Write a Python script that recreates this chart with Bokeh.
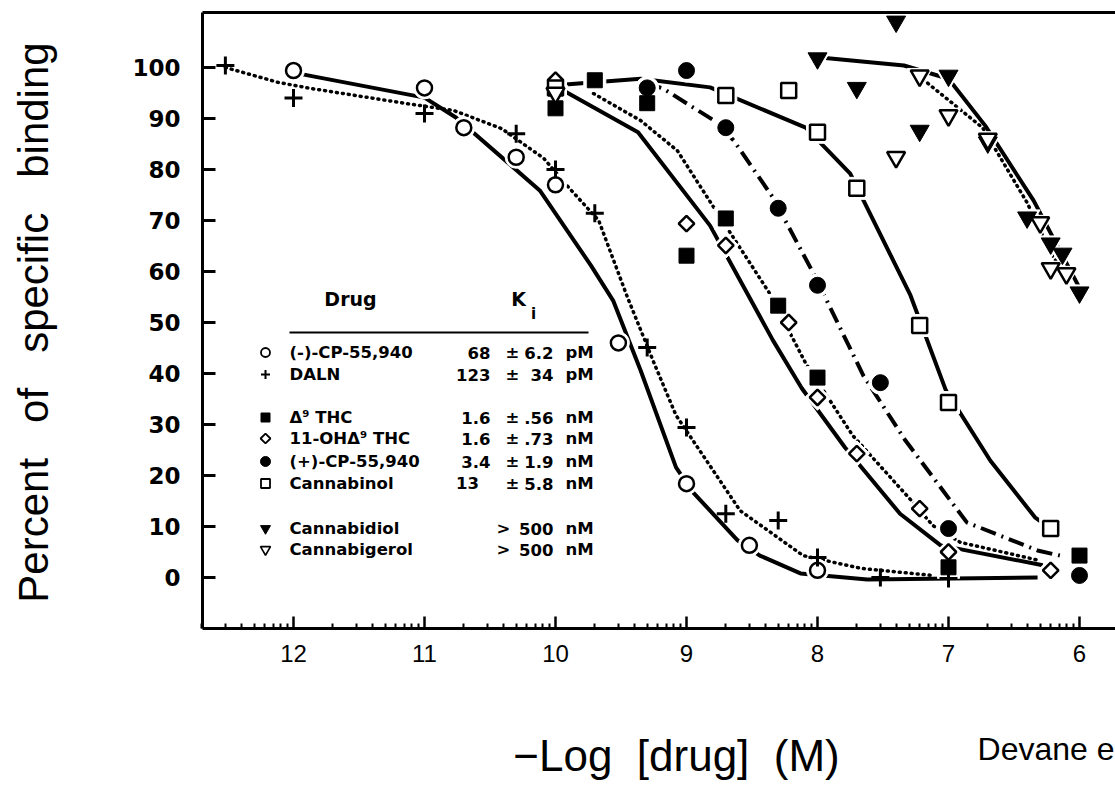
import math
from bokeh.plotting import figure
from bokeh.models import Range1d, FixedTicker, Label, LinearAxis
from bokeh.embed import file_html
from bokeh.resources import INLINE
from bokeh.core.properties import value

# ---------------- data (x = -log10[drug], y = % specific binding) ----------------
cpneg_x = [12.0, 11.0, 10.70, 10.30, 10.0, 9.52, 9.0, 8.52, 8.0]
cpneg_y = [99.4, 96.0, 88.2, 82.4, 77.0, 46.0, 18.4, 6.3, 1.4]
cpneg_cx = [12.0, 11.0, 10.76, 10.12, 9.73, 9.56, 9.35, 9.08, 8.95, 8.61, 8.44, 8.13, 7.62, 6.32]
cpneg_cy = [99.0, 94.1, 90.2, 75.9, 61.2, 54.3, 40.6, 21.6, 16.7, 7.3, 4.3, 0.8, -0.4, 0.0]

daln_x = [12.52, 12.0, 11.0, 10.30, 10.0, 9.70, 9.30, 9.0, 8.70, 8.30, 8.0, 7.52, 7.0]
daln_y = [100.4, 94.0, 91.0, 87.0, 80.0, 71.4, 45.1, 29.4, 12.5, 11.2, 3.9, 0.0, -0.2]
daln_cx = [12.52, 12.12, 11.87, 11.13, 10.78, 10.41, 10.09, 9.90, 9.67, 9.45, 9.25, 9.08, 8.59, 8.11, 7.67, 7.12]
daln_cy = [100.0, 97.1, 95.9, 92.9, 91.6, 88.0, 82.2, 76.5, 70.0, 54.9, 42.2, 31.8, 13.1, 4.3, 1.8, 0.4]

thc_x = [10.0, 9.70, 9.30, 9.0, 8.70, 8.30, 8.0, 7.0, 6.0]
thc_y = [92.0, 97.5, 93.0, 63.1, 70.4, 53.3, 39.2, 2.0, 4.3]
thc_cx = [10.0, 9.94, 9.37, 8.82, 8.34, 8.12, 7.79, 7.37, 7.06, 6.28]
thc_cy = [96.0, 95.5, 87.3, 69.0, 46.5, 37.1, 25.5, 12.5, 6.3, 2.4]

oh_x = [10.0, 9.0, 8.70, 8.22, 8.0, 7.70, 7.22, 7.0, 6.22]
oh_y = [97.5, 69.4, 65.1, 50.0, 35.3, 24.3, 13.5, 5.0, 1.4]
oh_cx = [9.71, 9.35, 9.07, 8.79, 8.37, 8.09, 7.73, 7.27, 7.12, 6.91, 6.30]
oh_cy = [94.9, 89.6, 83.7, 72.5, 55.9, 42.0, 27.8, 14.7, 10.2, 6.9, 3.3]

cppos_x = [9.30, 9.0, 8.70, 8.30, 8.0, 7.52, 7.0, 6.0]
cppos_y = [96.0, 99.4, 88.2, 72.4, 57.3, 38.2, 9.6, 0.4]
cppos_cx = [9.31, 9.18, 8.79, 8.64, 8.34, 8.03, 7.65, 7.33, 6.86, 6.32, 6.15]
cppos_cy = [96.9, 95.9, 89.6, 85.7, 74.5, 59.6, 39.6, 26.9, 10.8, 5.3, 4.3]

cbn_x = [10.0, 8.70, 8.22, 8.0, 7.70, 7.22, 7.0, 6.22]
cbn_y = [96.0, 94.5, 95.5, 87.3, 76.3, 49.4, 34.3, 9.6]
cbn_cx = [10.0, 9.35, 8.82, 8.09, 7.75, 7.29, 7.02, 6.68, 6.34, 6.22]
cbn_cy = [96.5, 97.8, 96.1, 88.2, 79.2, 55.3, 36.7, 22.9, 11.8, 9.6]

cbd_x = [8.0, 7.70, 7.40, 7.22, 7.0, 6.70, 6.40, 6.22, 6.13, 6.0]
cbd_y = [101.8, 96.0, 109.0, 87.6, 98.4, 85.3, 70.6, 65.5, 63.5, 55.9]
cbd_cx = [8.0, 7.34, 7.0, 6.72, 6.35, 6.15, 5.99]
cbd_cy = [102.0, 100.4, 97.8, 88.6, 73.9, 64.1, 56.3]

cbg_x = [10.0, 7.40, 7.22, 7.0, 6.70, 6.30, 6.22, 6.10]
cbg_y = [95.0, 82.4, 98.4, 90.6, 86.0, 69.6, 60.6, 59.6]
cbg_cx = [7.23, 6.74, 6.40, 6.21, 6.09]
cbg_cy = [98.4, 88.2, 73.5, 63.1, 59.2]

y_ticks = [0, 10, 20, 30, 40, 50, 60, 70, 80, 90, 100]
x_ticks = [12, 11, 10, 9, 8, 7, 6]
x_tick_labels = ["12", "11", "10", "9", "8", "7", "6"]

legend_names = ["(-)-CP-55,940", "DALN", "\u0394\u2079 THC", "11-OH\u0394\u2079 THC",
                "(+)-CP-55,940", "Cannabinol", "Cannabidiol", "Cannabigerol"]
legend_ki = ["68", "123", "1.6", "1.6", "3.4", "13\u2007", "", ""]
legend_pm = ["\u00b1", "\u00b1", "\u00b1", "\u00b1", "\u00b1", "\u00b1", ">", ">"]
legend_err = ["6.2", "34", ".56", ".73", "1.9", "5.8", "500", "500"]
legend_unit = ["pM", "pM", "nM", "nM", "nM", "nM", "nM", "nM"]

# ---------------- geometry helpers (canvas pixel -> data) ----------------
def dx(px):
    return 12 - (px - 293) / 131.0

def dy(py):
    return (577 - py) / 5.1

W, H = 1115, 786
FL, FR, FT, FB = 202, 1115, 12, 628   # plot box edges (canvas px)

p = figure(width=W, height=H, output_backend="svg", toolbar_location=None,
           x_range=Range1d(dx(0), dx(W)), y_range=Range1d(dy(H), dy(0)),
           x_axis_location=None, y_axis_location=None, min_border=0)
p.outline_line_color = None
p.grid.visible = False
p.background_fill_color = "white"
p.border_fill_color = "white"

# ---------------- axes (fixed to the plot box) ----------------
yaxis = LinearAxis(fixed_location=dx(FL), bounds=(dy(FB), dy(FT)),
                   ticker=FixedTicker(ticks=y_ticks),
                   major_tick_in=13, major_tick_out=0, minor_tick_in=0, minor_tick_out=0,
                   axis_line_width=3, major_tick_line_width=3, major_label_standoff=22,
                   major_label_text_font="DejaVu Sans", major_label_text_font_style="bold",
                   major_label_text_font_size="23px", major_label_text_color="black")
p.add_layout(yaxis, "left")

minor = []
for n in range(13, 5, -1):
    for k in range(2, 10):
        minor.append(n - math.log10(k))
xaxis = LinearAxis(fixed_location=dy(FB), bounds=(dx(FL), dx(FR)),
                   ticker=FixedTicker(ticks=x_ticks, minor_ticks=minor),
                   major_label_overrides={t: s for t, s in zip(x_ticks, x_tick_labels)},
                   major_tick_in=12, major_tick_out=0, minor_tick_in=5, minor_tick_out=0,
                   axis_line_width=3, major_tick_line_width=2.5, minor_tick_line_width=2,
                   major_label_standoff=16, major_label_text_font="Liberation Sans",
                   major_label_text_font_size="24px", major_label_text_color="black")
p.add_layout(xaxis, "below")

topaxis = LinearAxis(fixed_location=dy(FT), bounds=(dx(FL), dx(FR)),
                     ticker=FixedTicker(ticks=[]), major_tick_in=0, major_tick_out=0,
                     minor_tick_in=0, minor_tick_out=0, axis_line_width=3,
                     major_label_text_font_size="0px")
p.add_layout(topaxis, "above")

# ---------------- curves ----------------
LW = 4
p.line(cpneg_cx, cpneg_cy, line_width=LW, line_color="black")
p.line(daln_cx, daln_cy, line_width=3.5, line_color="black", line_dash="1 5", line_cap="round")
p.line(thc_cx, thc_cy, line_width=LW, line_color="black")
p.line(oh_cx, oh_cy, line_width=3.5, line_color="black", line_dash="1 5", line_cap="round")
p.line(cppos_cx, cppos_cy, line_width=LW, line_color="black", line_dash="16 6 2 6")
p.line(cbn_cx, cbn_cy, line_width=LW, line_color="black")
p.line(cbd_cx, cbd_cy, line_width=LW, line_color="black")
p.line(cbg_cx, cbg_cy, line_width=3.5, line_color="black", line_dash="1 5", line_cap="round")

series = [
    (cpneg_x, cpneg_y, dict(marker="circle", size=15, fill_color="white", line_width=2.5)),
    (daln_x, daln_y, dict(marker="cross", size=18, line_width=3)),
    (thc_x, thc_y, dict(marker="square", size=15, fill_color="black")),
    (oh_x, oh_y, dict(marker="square", size=11, angle=math.pi / 4, fill_color="white", line_width=2.5)),
    (cppos_x, cppos_y, dict(marker="circle", size=16, fill_color="black")),
    (cbn_x, cbn_y, dict(marker="square", size=15, fill_color="white", line_width=2.5)),
    (cbd_x, cbd_y, dict(marker="inverted_triangle", size=19, fill_color="black")),
    (cbg_x, cbg_y, dict(marker="inverted_triangle", size=18, fill_color="white", line_width=2.5)),
]
# white halos (line gaps around symbols)
for xs, ys, st in series:
    if st["marker"] == "cross":
        continue
    h = dict(st)
    h["size"] = st["size"] + 7
    h["fill_color"] = "white"
    h["line_color"] = "white"
    h["line_width"] = 1
    p.scatter(xs, ys, **h)
for xs, ys, st in series:
    p.scatter(xs, ys, line_color="black", **st)

# ---------------- legend table ----------------
row_py = [352, 374, 417, 438, 461, 483, 528, 549]
rows_y = [dy(v) for v in row_py]
leg_styles = [
    dict(marker="circle", size=9, fill_color="white", line_width=1.8),
    dict(marker="cross", size=9, line_width=2),
    dict(marker="square", size=9, fill_color="black"),
    dict(marker="square", size=7, angle=math.pi / 4, fill_color="white", line_width=1.8),
    dict(marker="circle", size=10, fill_color="black"),
    dict(marker="square", size=9, fill_color="white", line_width=1.8),
    dict(marker="inverted_triangle", size=10, fill_color="black"),
    dict(marker="inverted_triangle", size=10, fill_color="white", line_width=1.6),
]
for yv, st in zip(rows_y, leg_styles):
    p.scatter([dx(265)], [yv], line_color="black", **st)

font = value("DejaVu Sans")
common = dict(text_font=font, text_font_style="bold", text_font_size="16.5px",
              text_baseline="middle", text_color="black")
p.text(x=[dx(289)] * len(legend_names), y=rows_y, text=legend_names, text_align="left", **common)
p.text(x=[dx(490)] * len(legend_ki), y=rows_y, text=legend_ki, text_align="right", **common)
p.text(x=[dx(512) if s == "\u00b1" else dx(503) for s in legend_pm], y=rows_y, text=legend_pm,
       text_align="center", **common)
p.text(x=[dx(553)] * len(legend_err), y=rows_y, text=legend_err, text_align="right", **common)
p.text(x=[dx(565)] * len(legend_unit), y=rows_y, text=legend_unit, text_align="left", **common)

p.text(x=[dx(350)], y=[dy(298)], text=["Drug"], text_align="center", text_baseline="middle",
       text_font=font, text_font_style="bold", text_font_size="19px")
p.text(x=[dx(518)], y=[dy(298)], text=["K"], text_align="center", text_baseline="middle",
       text_font=font, text_font_style="bold", text_font_size="19px")
p.text(x=[dx(533)], y=[dy(313)], text=["i"], text_align="center", text_baseline="middle",
       text_font=font, text_font_style="bold", text_font_size="15px")
p.segment(x0=[dx(289)], y0=[dy(332)], x1=[dx(588)], y1=[dy(332)], line_width=2, line_color="black")

# ---------------- titles ----------------
gap = "\u00a0" * 3
p.add_layout(Label(x=dx(33), y=dy(322),
                   text="Percent" + gap + "of" + gap + "specific" + gap + "binding",
                   angle=math.pi / 2, text_align="center", text_baseline="middle",
                   text_font="Liberation Sans", text_font_size="42px", text_color="black"))
p.add_layout(Label(x=dx(676), y=dy(755), text="\u2212Log\u00a0\u00a0[drug]\u00a0\u00a0(M)",
                   text_align="center", text_baseline="middle",
                   text_font="Liberation Sans", text_font_size="44px", text_color="black"))
p.add_layout(Label(x=dx(1114), y=dy(748), text="Devane e",
                   text_align="right", text_baseline="middle",
                   text_font="Liberation Sans", text_font_size="32px", text_color="black"))

open("out.html", "w").write(file_html(p, INLINE))
